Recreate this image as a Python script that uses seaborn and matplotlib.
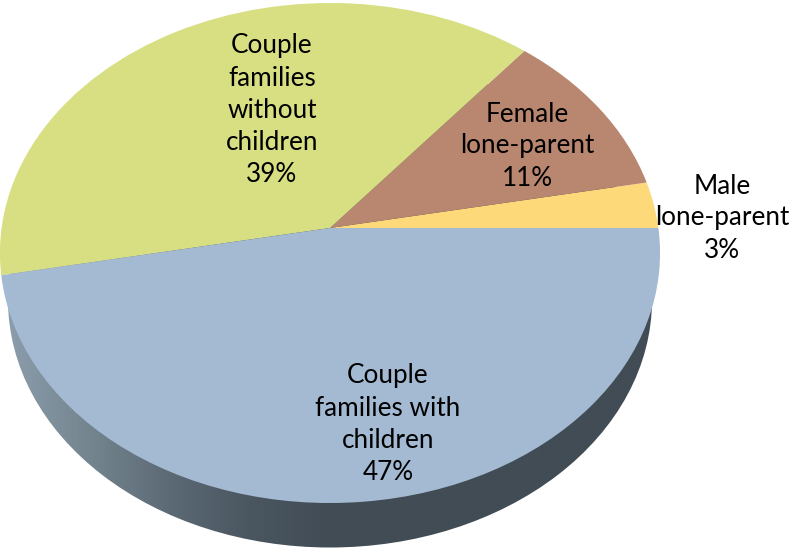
import numpy as np
import matplotlib
matplotlib.use("Agg")
import matplotlib.pyplot as plt
from matplotlib.colors import LinearSegmentedColormap
from matplotlib.patches import Ellipse
from matplotlib.transforms import Transform
import seaborn as sns

# ---- data ----
categories = ["Male\nlone-parent", "Female\nlone-parent",
              "Couple\nfamilies\nwithout\nchildren", "Couple\nfamilies with\nchildren"]
shares = [3, 11, 39, 47]
slice_colors = ["#fed979", "#b98670", "#d7df82", "#a3bad2"]
side_colors = ["#8b9dac", "#74858f", "#5c6a76", "#4a5660", "#414c55"]
label_xy = [(722, 218), (527, 146), (272, 110), (388, 424)]

# tilted disc: centre of the pie in pixels, and its perspective
CX, CY = 330.0, 228.0
K, A, B = 0.10, 247.5, 328.4


class TiltedDisc(Transform):
    """Projects the unit pie disc to the picture plane with perspective."""
    input_dims = output_dims = 2
    is_affine = False
    has_inverse = False

    def transform_non_affine(self, values):
        v = np.asarray(values, dtype=float)
        d = 1 + K * v[:, 1]
        return np.column_stack([CX + B * v[:, 0] / d, CY - A * v[:, 1] / d])


sns.set_theme(style="white")
plt.rcParams["font.family"] = ["Lato", "DejaVu Sans"]

fig = plt.figure(figsize=(7.9, 5.48), dpi=100)
ax = fig.add_axes([0, 0, 1, 1])

wedges, _ = ax.pie(
    shares,
    colors=sns.color_palette(slice_colors),
    startangle=0,
    counterclock=True,
    wedgeprops={"transform": TiltedDisc() + ax.transData, "linewidth": 0, "zorder": 3},
)

# side wall of the disc, a horizontal gradient under the top face
cmap = LinearSegmentedColormap.from_list("side", side_colors)
grad = np.linspace(0, 1, 400).reshape(1, -1)
im = ax.imshow(grad, cmap=cmap, extent=(8, 652, 548, 52), aspect="auto", zorder=1,
               interpolation="bilinear", vmin=0, vmax=0.5)
side = Ellipse((330, 300), 644, 495, transform=ax.transData, facecolor="none", edgecolor="none")
ax.add_patch(side)
im.set_clip_path(side)

for name, share, (x, y) in zip(categories, shares, label_xy):
    ax.text(x, y, f"{name}\n{share}%", ha="center", va="center", fontsize=18.8,
            color="black", linespacing=1.35, zorder=5)

ax.set_xlim(0, 790)
ax.set_ylim(548, 0)
ax.set_aspect("auto")
ax.axis("off")
fig.savefig("out.png", dpi=100, facecolor="white")
